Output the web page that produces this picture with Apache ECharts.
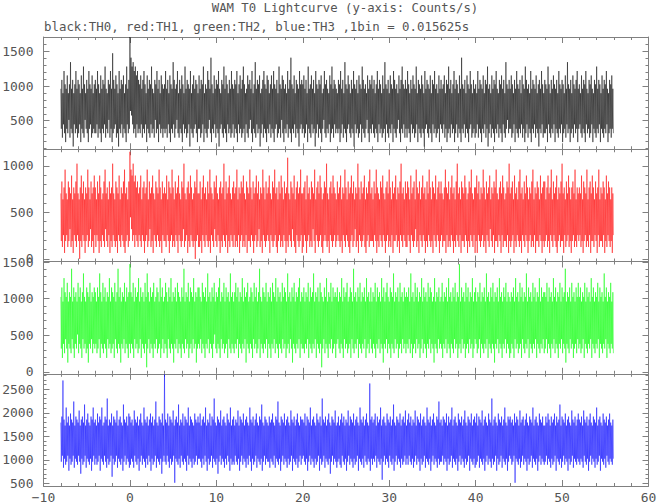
<!DOCTYPE html>
<html><head><meta charset="utf-8">
<script src="https://cdn.jsdelivr.net/npm/echarts@6/dist/echarts.min.js"></script>
<style>html,body{margin:0;padding:0;background:#fff}#c{width:657px;height:504px}</style>
</head><body><div id="c"></div>
<script>
const titleText = 'WAM T0 Lightcurve (y-axis: Counts/s)';
const subtitleText = 'black:TH0, red:TH1, green:TH2, blue:TH3 ,1bin = 0.015625s';
const binWidth = 0.015625;   // s per bin
const tStart = -8;           // s, first slice
const sliceStep = 0.125;     // s per slice of the picture
const halfStep = 0.0625;     // s, where the slice's low point is drawn

const xTickValues = [-10, 0, 10, 20, 30, 40, 50, 60];
const th0TickLabels = [500, 1000, 1500];
const th1TickLabels = [0, 500, 1000];
const th2TickLabels = [0, 500, 1000, 1500];
const th3TickLabels = [500, 1000, 1500, 2000, 2500];

// For every 0.125 s slice of the picture: highest and lowest bin count (counts per 1/64 s bin)
const th0High = [
15,17,14,19,16,15,18,14,16,21,15,17,14,16,19,15,17,16,14,18,15,20,16,14,17,15,19,16,15,18,14,16,
17,15,19,16,14,18,15,17,16,20,15,14,17,16,19,15,23,17,15,18,16,14,19,15,17,16,18,14,16,20,15,17,
27,22,20,21,19,20,18,19,17,16,18,15,17,19,16,14,18,15,17,16,20,15,14,17,16,19,15,17,14,18,16,15,
16,19,15,17,14,18,16,15,21,17,15,16,19,14,17,15,18,16,14,20,15,17,16,15,19,14,16,18,15,17,16,14,
18,15,17,16,20,14,16,15,19,17,15,22,16,14,18,15,17,16,19,15,14,17,16,20,15,18,16,14,17,15,19,16,
15,17,16,19,14,16,18,15,17,20,16,14,15,18,16,17,15,19,14,16,21,15,17,16,18,14,15,17,19,16,15,18,
17,14,16,18,15,19,16,15,17,14,20,16,15,18,17,15,16,14,19,15,17,22,16,15,18,14,17,16,15,19,16,17,
16,18,15,17,14,20,15,16,18,15,17,14,19,16,15,17,16,18,14,15,19,16,17,15,14,18,16,20,15,17,16,15,
14,17,16,19,15,17,14,21,16,15,18,16,14,17,15,19,16,15,17,14,18,16,15,20,17,15,16,14,18,15,17,16,
18,15,17,14,16,19,15,17,16,14,18,15,21,16,15,17,14,18,16,15,19,17,15,16,14,18,15,17,20,16,15,17,
15,19,16,14,17,15,18,16,15,20,14,17,16,15,18,16,14,19,15,17,16,15,18,14,17,16,19,15,16,14,18,15,
17,15,16,18,14,17,16,20,15,17,14,16,19,15,17,16,14,18,15,22,16,15,17,14,18,16,15,19,16,14,17,15,
16,14,19,15,17,16,15,18,14,17,16,20,15,16,14,18,15,17,16,19,15,14,17,16,18,15,17,14,21,16,15,17,
15,18,16,14,17,15,19,16,15,17,14,18,16,15,20,17,15,16,14,19,15,17,16,15,18,14,16,17,15,19,16,14,
17,16,15,20,16,14,17,15,18,16,15,17,14,19,16,15,17,16,14,18,15,21,16,15,17,14,18,16,15,17,19,15,
16,14,18,15,17,16,19,15,14,17,16,18,15,14,17,16,20,15,17,16,14,18,15,17,16,19,15,14,17,16,18,15
];
const th0Low = [
6,4,7,5,3,6,5,8,4,6,5,2,7,5,6,4,5,7,3,6,5,4,8,6,5,3,6,7,4,5,6,5,
5,7,4,6,5,3,6,5,7,4,6,5,8,4,6,3,5,6,7,4,5,2,6,5,7,4,6,5,3,7,5,6,
10,9,7,5,6,4,7,5,6,5,7,4,6,5,7,3,6,5,4,7,5,6,4,8,5,6,3,7,5,6,4,6,
5,6,4,7,5,3,6,5,7,4,6,8,5,4,6,5,3,7,5,6,4,5,7,2,6,5,4,6,7,5,3,6,
6,4,5,7,3,6,5,4,6,8,5,3,6,5,7,4,6,5,2,6,7,5,4,6,5,3,7,5,6,4,5,7,
4,6,5,3,7,5,6,4,5,6,3,7,5,4,6,8,5,3,6,5,4,7,5,6,2,5,7,4,6,5,3,6,
5,7,4,6,5,3,6,7,4,5,6,4,8,5,3,6,5,7,4,6,5,3,6,5,7,4,6,5,2,6,7,5,
6,4,5,7,3,6,5,4,7,5,6,2,5,7,4,6,5,3,6,8,5,4,6,5,7,3,5,6,4,7,5,6,
5,6,3,5,7,4,6,5,3,6,7,5,4,6,5,2,7,5,6,4,5,7,3,6,5,4,6,8,5,3,6,5,
7,5,4,6,5,3,7,5,6,4,5,6,3,7,5,4,6,5,7,3,6,5,4,6,8,5,3,6,5,7,4,6,
4,6,5,3,7,5,6,4,5,7,3,6,5,4,6,5,2,6,7,5,4,6,5,3,7,5,6,4,5,6,3,7,
6,5,7,4,6,3,5,6,4,7,5,6,3,5,7,4,6,5,3,6,5,7,4,6,5,3,6,7,4,5,6,4,
5,7,4,6,5,3,6,5,7,4,6,2,5,7,4,6,5,3,6,5,7,4,6,5,3,7,5,4,6,8,5,6,
6,4,5,7,3,6,5,4,6,5,7,4,6,3,5,7,4,6,5,3,6,5,7,4,6,5,2,6,5,7,4,5,
5,6,3,7,5,4,6,5,7,3,6,5,4,6,5,7,3,5,6,4,7,5,6,3,5,6,4,7,5,6,3,6,
7,5,4,6,5,3,7,5,6,4,5,7,3,6,5,4,6,5,7,3,6,5,4,6,5,7,3,5,6,4,6,5
];
const th1High = [
11,13,10,12,15,11,10,13,12,11,14,10,12,11,13,16,11,10,12,14,11,13,10,12,11,15,12,10,13,11,12,14,
12,10,13,11,14,12,10,11,13,15,11,12,10,13,11,12,16,11,10,13,12,11,14,10,12,11,13,15,11,12,10,13,
18,15,14,16,13,14,12,13,11,12,14,10,12,13,11,12,15,10,13,11,12,14,11,10,13,12,11,15,12,10,13,11,
12,11,14,10,13,12,11,15,12,10,13,11,12,14,11,10,13,12,16,11,10,12,13,11,14,12,10,11,13,12,15,11,
11,13,10,12,14,11,12,10,13,11,15,12,11,10,13,12,14,11,10,12,13,11,12,16,10,13,11,12,14,11,10,12,
13,11,12,15,10,12,11,13,12,14,11,10,13,12,11,15,12,10,13,11,12,14,11,13,10,12,11,15,12,10,13,11,
12,14,11,10,13,12,15,11,12,10,13,11,14,12,10,13,11,12,17,11,10,13,12,11,14,10,12,13,11,12,15,11,
11,12,13,10,14,11,12,10,13,12,11,15,10,12,13,11,14,12,10,11,13,12,16,11,10,12,13,11,14,12,11,10,
13,11,12,14,10,12,11,15,12,10,13,11,12,14,11,13,10,12,11,16,12,10,13,11,12,14,10,12,11,13,15,11,
12,10,13,11,15,12,11,10,13,12,14,11,10,12,13,11,15,12,10,13,11,12,14,10,12,11,13,16,11,12,10,13,
11,13,12,10,14,11,12,13,10,15,12,11,13,10,12,14,11,12,10,13,11,15,12,10,13,12,11,14,10,12,13,11,
13,11,10,12,15,12,11,13,10,12,14,11,12,10,13,16,11,12,10,13,12,11,14,12,10,11,13,12,15,11,10,12,
12,14,11,13,10,12,11,15,12,10,13,11,12,14,10,12,11,13,12,15,11,10,12,13,11,14,12,10,11,13,12,16,
11,12,13,10,14,11,12,10,13,15,11,12,10,13,11,14,12,10,12,11,13,15,10,12,11,13,12,10,14,11,12,13,
13,10,12,14,11,12,15,10,13,11,12,14,10,12,11,13,16,11,12,10,13,11,14,12,10,12,13,11,15,10,12,11,
12,11,14,10,13,12,11,15,10,12,13,11,14,12,10,13,11,12,15,10,12,11,13,12,10,14,11,13,12,10,12,11
];
const th1Low = [
3,2,4,1,3,4,2,3,5,2,3,1,4,3,2,4,3,0,3,2,4,3,1,3,4,2,3,5,2,3,1,4,
2,4,3,1,3,2,4,3,2,5,3,2,4,1,3,2,4,3,2,3,1,4,3,2,4,3,2,1,3,4,2,3,
7,5,3,4,2,4,3,2,4,3,2,4,3,1,3,4,2,3,5,2,3,1,4,3,2,4,3,2,3,1,4,3,
3,2,4,3,1,3,4,2,3,2,4,3,1,4,3,2,3,5,2,3,4,1,3,2,4,3,2,3,0,3,4,2,
2,3,1,4,3,2,4,3,2,3,1,4,3,2,5,3,2,4,3,1,3,2,4,3,2,4,1,3,2,4,3,2,
4,2,3,2,4,1,3,4,2,3,2,4,1,3,3,2,4,3,1,3,4,2,3,5,2,3,1,4,3,2,3,4,
3,1,4,3,2,3,4,2,1,3,4,2,3,2,4,3,1,3,2,4,3,2,5,3,2,1,4,3,2,3,4,1,
2,4,3,1,3,4,2,3,2,5,3,1,4,3,2,3,4,2,1,3,4,3,2,3,1,4,3,2,3,4,2,3,
4,3,2,3,1,4,3,2,4,3,2,1,3,4,2,3,5,2,3,1,4,3,2,3,4,2,1,3,4,2,3,3,
3,2,4,3,1,3,2,4,3,2,4,3,1,3,4,2,3,2,4,1,3,3,4,2,3,1,4,3,2,4,3,2,
2,4,3,1,4,3,2,3,5,2,3,1,4,3,2,4,3,1,3,2,4,3,2,3,1,4,3,2,4,3,1,3,
4,2,3,3,1,4,2,3,2,4,3,1,3,2,4,3,2,4,1,3,3,2,4,3,1,3,2,4,3,2,4,1,
3,1,4,3,2,3,4,2,3,1,4,3,2,5,3,2,4,1,3,3,2,4,3,1,4,2,3,3,2,4,1,3,
2,3,4,1,3,2,4,3,2,3,1,4,3,2,4,3,1,3,4,2,3,2,4,1,3,3,2,4,3,1,3,2,
3,4,2,3,1,4,3,2,4,3,2,1,3,4,2,3,3,1,4,2,3,4,2,3,1,3,4,2,3,2,4,3,
4,2,3,1,3,4,2,3,2,4,1,3,3,2,4,3,1,4,2,3,3,2,4,1,3,2,4,3,2,3,1,4
];
const th2High = [
16,18,15,20,17,16,19,15,17,16,22,15,18,16,17,15,19,16,18,15,17,21,16,15,18,17,16,19,15,17,16,18,
17,15,18,16,21,17,15,19,16,18,15,17,16,20,15,18,17,16,19,15,17,22,16,18,15,17,16,19,15,18,16,17,
23,17,16,19,15,18,16,17,20,15,18,16,17,15,19,16,21,17,15,18,16,17,19,15,16,18,17,15,20,16,18,15,
16,19,17,15,18,16,20,15,17,16,18,15,19,17,16,15,18,16,22,15,17,16,19,15,18,17,16,20,15,17,16,18,
18,16,15,19,17,16,18,15,21,16,17,15,18,16,19,15,17,16,18,20,15,17,16,19,15,18,16,17,15,21,16,17,
15,17,19,16,18,15,17,16,20,15,18,16,17,19,15,16,18,17,15,19,16,18,15,17,22,16,15,18,17,16,19,15,
17,16,18,15,19,17,16,20,15,18,16,17,15,19,16,18,17,15,21,16,17,15,18,16,19,15,17,16,18,20,15,17,
16,18,15,17,16,19,15,18,16,17,21,15,17,16,18,15,19,17,16,15,18,16,20,15,17,16,19,15,18,16,17,16,
18,15,17,16,20,15,18,16,17,19,15,16,18,17,15,22,16,17,15,18,16,19,15,17,16,18,15,20,16,17,15,18,
15,17,16,19,15,18,16,17,15,20,16,18,15,17,19,16,15,18,17,16,21,15,17,16,18,15,19,16,17,15,18,16,
17,16,18,15,21,16,17,15,19,16,18,15,17,16,20,15,18,16,17,15,19,16,18,17,15,16,20,15,17,16,18,15,
16,19,15,17,16,18,15,20,16,17,15,18,16,19,15,17,16,23,15,18,16,17,15,19,16,18,15,17,16,20,15,17,
18,15,17,16,19,15,17,16,18,15,21,16,17,15,18,16,19,15,17,16,18,15,20,16,17,15,18,16,19,15,17,16,
15,17,16,18,15,20,16,17,15,19,16,18,15,17,16,21,15,18,16,17,15,19,16,18,15,17,16,20,15,18,16,17,
17,16,19,15,18,16,17,15,20,16,18,15,17,16,19,15,18,16,17,22,15,17,16,18,15,19,16,17,15,18,16,19,
16,18,15,17,16,19,15,18,16,17,15,20,16,18,15,17,16,19,15,18,16,17,15,21,16,18,15,17,16,19,15,17
];
const th2Low = [
5,3,6,4,7,5,2,6,5,4,7,5,3,6,5,8,4,6,5,3,7,5,6,4,5,2,6,5,7,4,6,5,
6,4,5,7,3,6,5,4,6,5,3,7,5,6,4,5,6,3,7,5,4,6,5,2,6,5,7,4,6,5,3,6,
4,6,5,3,7,5,6,4,5,7,3,6,5,4,6,1,5,7,4,6,5,3,6,5,7,4,5,6,3,5,7,4,
6,5,3,7,5,4,6,5,2,6,5,7,4,6,5,3,6,5,4,7,5,6,3,5,6,4,7,5,6,2,5,6,
5,7,4,6,5,3,6,5,7,4,6,5,3,6,8,5,4,6,5,3,7,5,6,4,5,6,3,7,5,4,6,5,
4,6,5,7,3,6,5,4,6,5,7,2,6,5,4,6,5,3,7,5,6,4,5,7,3,6,5,4,6,5,7,3,
6,5,3,6,5,7,4,6,5,3,6,5,4,7,5,6,3,5,6,4,7,5,2,6,5,4,6,5,7,3,6,5,
5,4,6,5,7,3,6,5,4,6,5,7,3,6,5,4,6,1,5,7,4,6,5,3,6,5,7,4,5,6,3,6,
7,5,4,6,5,3,7,5,6,4,5,6,3,7,5,4,6,5,7,3,6,5,4,6,5,7,3,5,6,4,7,5,
4,6,5,3,6,5,7,4,6,5,2,6,5,7,4,6,5,3,6,5,4,7,5,6,3,5,6,4,7,5,6,4,
6,5,7,4,6,3,5,6,4,7,5,6,3,5,7,4,6,5,3,6,5,7,4,6,5,2,6,5,4,7,5,6,
5,3,6,5,7,4,6,5,3,6,5,4,7,5,6,3,5,6,4,7,5,6,3,5,6,4,7,5,6,3,5,7,
6,4,5,7,3,6,5,4,6,5,7,3,6,5,4,6,5,2,6,5,7,4,6,5,3,6,5,7,4,6,5,3,
4,6,5,3,7,5,6,4,5,6,3,7,5,4,6,5,7,3,6,5,4,6,5,7,3,6,5,4,6,5,7,4,
5,7,4,6,5,3,6,5,7,4,6,5,3,6,5,7,4,6,5,2,6,5,4,7,5,6,3,5,6,4,7,5,
6,4,5,7,3,6,5,4,6,5,7,3,6,5,4,6,5,7,3,6,5,4,6,5,7,3,6,5,4,6,5,4
];
const th3High = [
28,30,42,29,27,33,28,30,27,31,29,28,35,27,30,29,28,32,27,29,30,28,34,27,29,31,28,27,30,29,33,28,
29,27,31,28,30,29,33,27,28,30,29,36,27,29,28,31,27,30,29,28,32,27,29,30,28,27,34,29,28,30,27,31,
30,28,29,27,32,29,28,30,27,29,31,28,27,33,29,28,30,27,29,31,28,30,27,29,35,28,27,30,29,28,31,27,
44,29,28,31,27,30,29,28,32,27,29,30,28,34,27,29,28,31,27,30,29,28,33,27,30,29,28,27,31,29,28,30,
28,31,27,29,30,28,33,27,29,28,31,27,30,29,36,28,27,30,29,28,32,27,29,30,28,27,31,29,28,33,27,29,
30,27,29,28,32,27,30,29,28,31,27,29,30,28,27,33,29,28,30,27,29,31,28,27,30,29,34,28,27,30,29,28,
27,30,28,29,31,28,27,30,29,35,28,27,30,29,28,31,27,29,30,28,27,32,29,28,30,27,29,31,28,27,30,29,
29,28,31,27,30,29,28,33,27,29,30,28,27,31,29,28,30,27,36,29,28,30,27,29,31,28,27,30,29,28,32,27,
28,30,27,29,31,28,30,27,29,28,32,27,30,29,28,31,27,29,30,28,27,33,29,28,30,27,29,31,28,27,41,29,
30,28,29,31,27,30,28,29,33,27,29,30,28,27,31,29,28,30,27,29,34,28,27,30,29,28,31,27,29,30,28,32,
27,29,31,28,30,27,29,28,32,27,30,29,28,31,27,29,30,28,27,33,29,28,30,27,29,31,28,27,30,29,35,28,
29,27,30,29,28,31,27,30,28,29,33,27,29,30,28,27,31,29,28,30,27,29,32,28,27,30,29,28,31,27,29,30,
28,31,27,30,29,28,32,27,29,30,28,27,31,29,28,36,27,29,30,28,27,31,29,28,30,27,29,33,28,27,30,29,
30,28,29,27,31,28,30,29,27,32,28,29,30,27,29,31,28,27,30,29,28,33,27,29,30,28,27,31,29,28,30,27,
27,30,28,31,29,27,30,28,29,31,27,30,28,29,34,27,30,29,28,31,27,29,30,28,27,32,29,28,30,27,29,31,
29,28,30,27,32,29,28,30,27,29,31,28,27,30,29,28,33,27,29,30,28,27,31,29,28,30,27,29,31,28,27,29
];
const th3Low = [
15,17,13,16,14,15,17,12,16,14,15,17,13,16,15,14,17,15,11,16,14,15,17,13,16,15,14,16,12,15,17,14,
16,14,15,17,12,16,15,14,17,15,13,16,14,15,17,10,16,14,15,17,13,16,15,14,16,12,15,17,14,16,15,13,
14,16,15,13,17,15,14,16,12,15,17,14,16,15,13,16,14,17,15,12,16,14,15,17,13,16,15,14,16,11,15,17,
15,14,17,15,13,16,14,15,17,8,16,15,14,16,13,17,15,14,16,15,12,17,14,16,15,13,16,14,15,17,14,16,
16,15,13,16,14,17,15,12,16,14,15,17,13,16,15,14,16,11,15,17,14,16,15,13,16,14,17,15,12,16,14,15,
14,17,15,14,16,12,15,17,14,16,15,13,16,14,17,15,12,16,14,15,17,13,16,15,14,16,12,15,17,14,16,15,
15,13,16,15,14,17,13,16,15,14,16,12,15,17,14,16,15,13,16,14,15,17,12,16,15,14,16,13,15,17,14,16,
17,15,14,16,12,15,17,14,16,15,13,16,14,15,17,12,16,14,15,17,13,16,15,14,16,11,15,17,14,16,15,13,
15,16,14,13,17,15,14,16,12,15,17,14,16,15,13,16,14,15,17,12,16,15,14,16,13,17,15,14,16,15,12,16,
14,16,15,17,13,16,15,14,16,9,15,17,14,16,15,13,17,15,14,16,12,15,17,14,16,15,13,16,14,15,17,14,
16,14,17,15,14,16,13,15,17,14,16,15,12,16,14,15,17,13,16,15,14,16,12,15,17,14,16,15,13,16,14,15,
15,17,14,16,15,12,16,14,15,17,13,16,15,14,16,12,15,17,14,16,15,13,16,14,15,17,12,16,15,14,16,13,
14,15,17,13,16,15,14,16,12,15,17,14,16,15,13,16,14,15,17,12,16,14,15,17,13,16,15,14,16,12,15,17,
16,14,15,17,8,16,15,14,16,13,15,17,14,16,15,12,16,14,15,17,13,16,15,14,16,12,15,17,14,16,15,14,
15,17,14,16,15,13,16,14,15,17,12,16,15,14,16,13,15,17,14,16,15,12,16,14,15,17,13,16,15,14,16,15,
14,16,15,13,17,15,14,16,12,15,17,14,16,15,13,16,14,15,17,12,16,15,14,16,13,17,15,14,16,15,14,16
];

const panels = [
  { hi: th0High, lo: th0Low, color: '#000000', yMin: 89,  yMax: 1706, labels: th0TickLabels },
  { hi: th1High, lo: th1Low, color: '#ff0000', yMin: -28, yMax: 1179, labels: th1TickLabels },
  { hi: th2High, lo: th2Low, color: '#00ff00', yMin: -24, yMax: 1507, labels: th2TickLabels },
  { hi: th3High, lo: th3Low, color: '#0000ff', yMin: 443, yMax: 2831, labels: th3TickLabels }
];

// one item per slice: [time, high rate, low rate, next slice's high rate] in counts/s
function toItems(hi, lo) {
  const out = [];
  const n = Math.min(hi.length, lo.length);
  for (let k = 0; k < n; k++) {
    out.push([tStart + k * sliceStep, hi[k] / binWidth, lo[k] / binWidth, k + 1 < n ? hi[k + 1] / binWidth : NaN]);
  }
  return out;
}

const FONT = '"DejaVu Sans Mono", monospace';
const axisColor = '#808080';
const textColor = '#555555';
const gridTop = 37, gridH = 112.25, gridLeft = 43.5, gridRight = 8.5;
const strokeOpacity = 0.5;

const grids = [], xAxes = [], yAxes = [], series = [];
panels.forEach((p, i) => {
  grids.push({ left: gridLeft, right: gridRight, top: gridTop + i * gridH, height: gridH, outerBoundsMode: 'none' });
  const xCommon = {
    type: 'value', gridIndex: i, min: -10, max: 60, interval: 10,
    axisLine: { show: true, onZero: false, lineStyle: { color: axisColor, width: 1 } },
    axisTick: { show: true, inside: true, length: 6, lineStyle: { color: axisColor } },
    minorTick: { show: true, splitNumber: 5, length: 3, lineStyle: { color: axisColor } },
    splitLine: { show: false }, minorSplitLine: { show: false }
  };
  xAxes.push(Object.assign({}, xCommon, {
    position: 'bottom',
    axisLabel: {
      show: i === panels.length - 1, margin: 5, color: textColor, fontSize: 13, fontFamily: FONT,
      customValues: xTickValues,
      formatter: v => (v < 0 ? '\u2212' + Math.abs(v) : String(v))
    }
  }));
  xAxes.push(Object.assign({}, xCommon, { position: 'top', axisLabel: { show: false } }));

  const minor = [];
  for (let v = Math.ceil(p.yMin / 100) * 100; v <= p.yMax; v += 100) minor.push(v);
  const yCommon = { type: 'value', gridIndex: i, min: p.yMin, max: p.yMax, splitLine: { show: false } };
  const lineOn = { show: true, onZero: false, lineStyle: { color: axisColor, width: 1 } };
  const lineOff = { show: false, onZero: false };
  const majorTick = { show: true, inside: true, length: 6, customValues: p.labels, lineStyle: { color: axisColor } };
  const minorTickAx = { show: true, inside: true, length: 3, customValues: minor, lineStyle: { color: axisColor } };
  yAxes.push(Object.assign({}, yCommon, {
    position: 'left', axisLine: lineOn, axisTick: majorTick,
    axisLabel: { show: true, customValues: p.labels, margin: 10, color: textColor, fontSize: 13, fontFamily: FONT, formatter: v => String(v) }
  }));
  yAxes.push(Object.assign({}, yCommon, { position: 'right', axisLine: lineOn, axisTick: majorTick, axisLabel: { show: false } }));
  yAxes.push(Object.assign({}, yCommon, { position: 'left', axisLine: lineOff, axisTick: minorTickAx, axisLabel: { show: false } }));
  yAxes.push(Object.assign({}, yCommon, { position: 'right', axisLine: lineOff, axisTick: minorTickAx, axisLabel: { show: false } }));

  const color = p.color;
  series.push({
    type: 'custom', xAxisIndex: 2 * i, yAxisIndex: 4 * i,
    data: toItems(p.hi, p.lo),
    encode: { x: 0, y: [1, 2, 3] },
    clip: true, silent: true, animation: false,
    renderItem: function (params, api) {
      const t = api.value(0);
      const pts = [api.coord([t, api.value(1)]), api.coord([t + halfStep, api.value(2)])];
      const nh = api.value(3);
      if (!isNaN(nh)) pts.push(api.coord([t + sliceStep, nh]));
      return {
        type: 'polyline', silent: true,
        shape: { points: pts },
        style: { stroke: color, fill: 'none', lineWidth: 1, opacity: strokeOpacity }
      };
    }
  });
});

const chart = echarts.init(document.getElementById('c'), null, { renderer: 'svg' });
chart.setOption({
  animation: false,
  backgroundColor: '#ffffff',
  grid: grids, xAxis: xAxes, yAxis: yAxes, series: series,
  graphic: [
    { type: 'text', x: 345, y: 8, style: { text: titleText, textAlign: 'center', textVerticalAlign: 'middle', fill: textColor, font: '12.3px ' + FONT } },
    { type: 'text', x: 44, y: 26.5, style: { text: subtitleText, textAlign: 'left', textVerticalAlign: 'middle', fill: textColor, font: '12.4px ' + FONT } }
  ]
});
</script></body></html>
